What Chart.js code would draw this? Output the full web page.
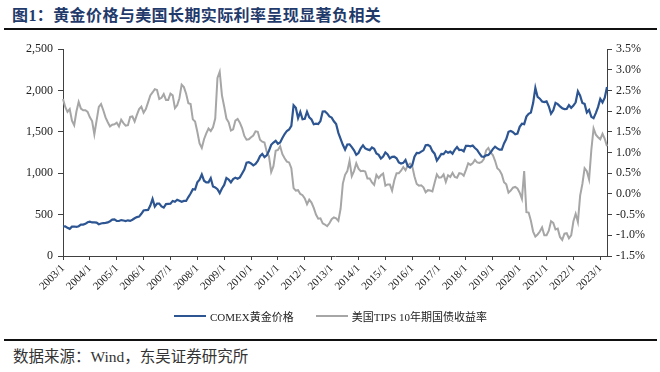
<!DOCTYPE html>
<html>
<head>
<meta charset="utf-8">
<script src="https://cdn.jsdelivr.net/npm/chart.js@4"></script>
<style>
  body { margin: 0; background: #fff; width: 660px; height: 372px; position: relative; overflow: hidden; }
  #title { position: absolute; left: 12px; top: 2px; font: bold 16px "Noto Sans CJK SC", sans-serif; color: #1f3a6b; letter-spacing: 0.4px; white-space: nowrap; }
  #title .num { font-family: "Liberation Serif", serif; }
  .rule { position: absolute; left: 4px; width: 653px; height: 2px; background: #111; }
  #source { position: absolute; left: 13px; top: 344px; font: 15.5px "Liberation Serif", "Noto Sans CJK SC", serif; color: #333; white-space: nowrap; }
  #wrap { position: absolute; left: 0; top: 30px; width: 660px; height: 308px; }
  #legend { position: absolute; left: 174px; top: 307px; height: 18px; display: flex; align-items: center; font: 11px "Liberation Serif", "Noto Sans CJK SC", serif; color: #222; white-space: nowrap; }
  #legend .item { display: flex; align-items: center; margin-right: 22px; }
  #legend .swatch { display: inline-block; width: 32px; height: 2px; margin-right: 4px; }
</style>
</head>
<body>
<div id="title">图<span class="num">1</span>：黄金价格与美国长期实际利率呈现显著负相关</div>
<div class="rule" style="top:28px"></div>
<div id="wrap"><canvas id="chart" width="660" height="308"></canvas></div>
<div id="legend"></div>
<div class="rule" style="top:339px"></div>
<div id="source">数据来源：Wind，东吴证券研究所</div>
<script>
// 月度数据 2003/1 - 2023/4
const goldPrice = [
  356,359,340,328,355,356,351,360,379,379,389,407,        // 2003
  414,405,406,404,384,392,398,400,406,420,439,442,        // 2004
  424,423,434,429,422,431,424,438,456,470,476,510,        // 2005
  549,555,557,610,690,596,633,632,599,585,627,629,        // 2006
  631,665,655,679,667,655,665,665,712,754,806,803,        // 2007
  889,922,985,909,888,889,939,839,829,806,760,816,        // 2008
  858,943,924,890,929,946,934,949,996,1043,1127,1134,     // 2009
  1118,1095,1113,1148,1205,1232,1193,1215,1271,1343,1370,1391, // 2010
  1356,1372,1424,1473,1510,1528,1572,1820,1790,1665,1739,1652, // 2011
  1656,1743,1675,1649,1591,1598,1594,1630,1745,1747,1722,1685, // 2012
  1671,1627,1593,1487,1414,1343,1286,1347,1349,1316,1276,1222, // 2013
  1244,1300,1337,1299,1288,1279,1311,1296,1239,1222,1176,1201, // 2014
  1251,1227,1178,1198,1199,1181,1131,1117,1125,1159,1086,1068, // 2015
  1097,1200,1246,1242,1260,1276,1337,1341,1326,1267,1236,1152, // 2016
  1192,1234,1231,1266,1246,1260,1236,1283,1315,1280,1283,1265, // 2017
  1331,1331,1325,1335,1304,1281,1238,1202,1198,1215,1221,1250, // 2018
  1291,1320,1300,1285,1284,1359,1413,1500,1511,1495,1470,1479, // 2019
  1560,1597,1592,1683,1716,1732,1847,2030,1921,1900,1866,1858, // 2020
  1867,1808,1718,1760,1850,1834,1807,1785,1775,1777,1821,1790, // 2021
  1817,1856,1990,1937,1848,1837,1733,1764,1681,1664,1726,1798, // 2022
  1898,1855,1912,2040                                          // 2023
];
const tipsYield = [
  2.29,2.10,1.98,2.05,1.77,1.66,1.99,2.22,2.06,2.02,2.02,1.98,
  1.85,1.76,1.44,1.77,2.10,2.17,2.02,1.85,1.73,1.63,1.67,1.68,
  1.72,1.63,1.79,1.71,1.65,1.66,1.86,1.87,1.75,1.91,2.05,2.11,
  1.96,2.05,2.21,2.38,2.45,2.53,2.51,2.29,2.32,2.41,2.27,2.27,
  2.42,2.38,2.07,2.14,2.31,2.64,2.58,2.42,2.19,2.17,1.80,1.75,
  1.50,1.22,1.11,1.32,1.46,1.58,1.52,1.61,1.82,2.80,2.95,2.38,
  2.11,1.82,1.73,1.53,1.56,1.77,1.81,1.72,1.59,1.40,1.31,1.32,
  1.37,1.41,1.51,1.50,1.31,1.26,1.24,1.02,0.91,0.53,0.67,1.04,
  1.06,1.15,0.96,0.86,0.78,0.76,0.62,0.14,0.08,0.09,0.00,-0.03,
  -0.11,-0.25,-0.14,-0.21,-0.34,-0.50,-0.60,-0.59,-0.71,-0.74,-0.78,-0.71,
  -0.61,-0.57,-0.59,-0.65,-0.36,0.25,0.46,0.55,0.80,0.43,0.55,0.74,
  0.61,0.55,0.56,0.54,0.37,0.37,0.28,0.22,0.46,0.38,0.45,0.49,
  0.20,0.23,0.23,0.08,0.33,0.50,0.50,0.56,0.65,0.57,0.69,0.73,
  0.67,0.42,0.24,0.20,0.21,0.16,0.04,0.09,0.08,0.06,0.27,0.47,
  0.39,0.40,0.47,0.29,0.45,0.41,0.51,0.41,0.39,0.50,0.49,0.44,
  0.58,0.74,0.70,0.74,0.82,0.76,0.75,0.77,0.84,1.05,1.11,1.00,
  0.94,0.80,0.62,0.57,0.47,0.28,0.23,0.03,0.08,0.15,0.17,0.13,
  0.03,-0.12,0.55,-0.44,-0.45,-0.65,-0.91,-1.03,-0.98,-0.91,-0.81,-1.00,
  -1.00,-0.89,-0.66,-0.70,-0.86,-0.84,-1.04,-1.11,-0.96,-0.95,-1.07,-1.00,
  -0.66,-0.48,-0.68,-0.04,0.24,0.62,0.55,0.35,1.06,1.58,1.43,1.37,
  1.32,1.45,1.33,1.15
];

// 月份标签
let months = [];
for (let y = 2003; y <= 2023; y++) {
  for (let m = 1; m <= 12; m++) {
    if (months.length < goldPrice.length) months.push(`${y}/${m}`);
  }
}

const serif = '"Liberation Serif", "Noto Sans CJK SC", serif';
const axisColor = '#404040';

let ctx = document.getElementById('chart').getContext('2d');
let chart = new Chart(ctx, {
  type: 'line',
  data: {
    labels: months,
    datasets: [{
      label: 'COMEX黄金价格',
      data: goldPrice,
      yAxisID: 'y',
      borderColor: '#2c5592',
      borderWidth: 2.2,
      pointRadius: 0,
      tension: 0
    }, {
      label: '美国TIPS 10年期国债收益率',
      data: tipsYield,
      yAxisID: 'y2',
      borderColor: '#a6a6a6',
      borderWidth: 2,
      pointRadius: 0,
      tension: 0
    }]
  },
  options: {
    responsive: false,
    animation: false,
    layout: { padding: { top: 19, bottom: 40, left: 0, right: 0 } },
    plugins: {
      tooltip: { enabled: false },
      legend: { display: false }
    },
    scales: {
      x: {
        type: 'category',
        offset: false,
        grid: { display: true, drawOnChartArea: false, drawTicks: true, tickLength: 4, color: axisColor },
        border: { display: true, color: axisColor, width: 1 },
        ticks: {
          autoSkip: false,
          minRotation: 45,
          maxRotation: 45,
          padding: 2,
          color: '#222',
          font: { family: serif, size: 11 },
          callback: function (val, idx) {
            let lab = months[idx];
            return lab.endsWith('/1') ? lab : null;
          }
        },
        afterFit: (scale) => { scale.height = 42; }
      },
      y: {
        position: 'left',
        min: 0,
        max: 2500,
        grid: { display: true, drawOnChartArea: false, drawTicks: true, tickLength: 5, color: axisColor },
        border: { display: true, color: axisColor, width: 1 },
        ticks: {
          stepSize: 500,
          padding: 5,
          color: '#222',
          font: { family: serif, size: 12 },
          callback: (v) => v.toLocaleString('en-US')
        },
        afterFit: (scale) => { scale.width = 63; }
      },
      y2: {
        position: 'right',
        min: -1.5,
        max: 3.5,
        grid: { display: true, drawOnChartArea: false, drawTicks: true, tickLength: 5, color: axisColor },
        border: { display: true, color: axisColor, width: 1 },
        ticks: {
          stepSize: 0.5,
          padding: 4,
          color: '#222',
          font: { family: serif, size: 12 },
          callback: (v) => (Math.round(v * 10) / 10).toFixed(1) + '%'
        },
        afterFit: (scale) => { scale.width = 53; }
      }
    }
  }
});

// 图例
let legendBox = document.getElementById('legend');
for (let ds of chart.data.datasets) {
  let item = document.createElement('span');
  item.className = 'item';
  let sw = document.createElement('span');
  sw.className = 'swatch';
  sw.style.background = ds.borderColor;
  item.appendChild(sw);
  item.appendChild(document.createTextNode(ds.label));
  legendBox.appendChild(item);
}
</script>
</body>
</html>
